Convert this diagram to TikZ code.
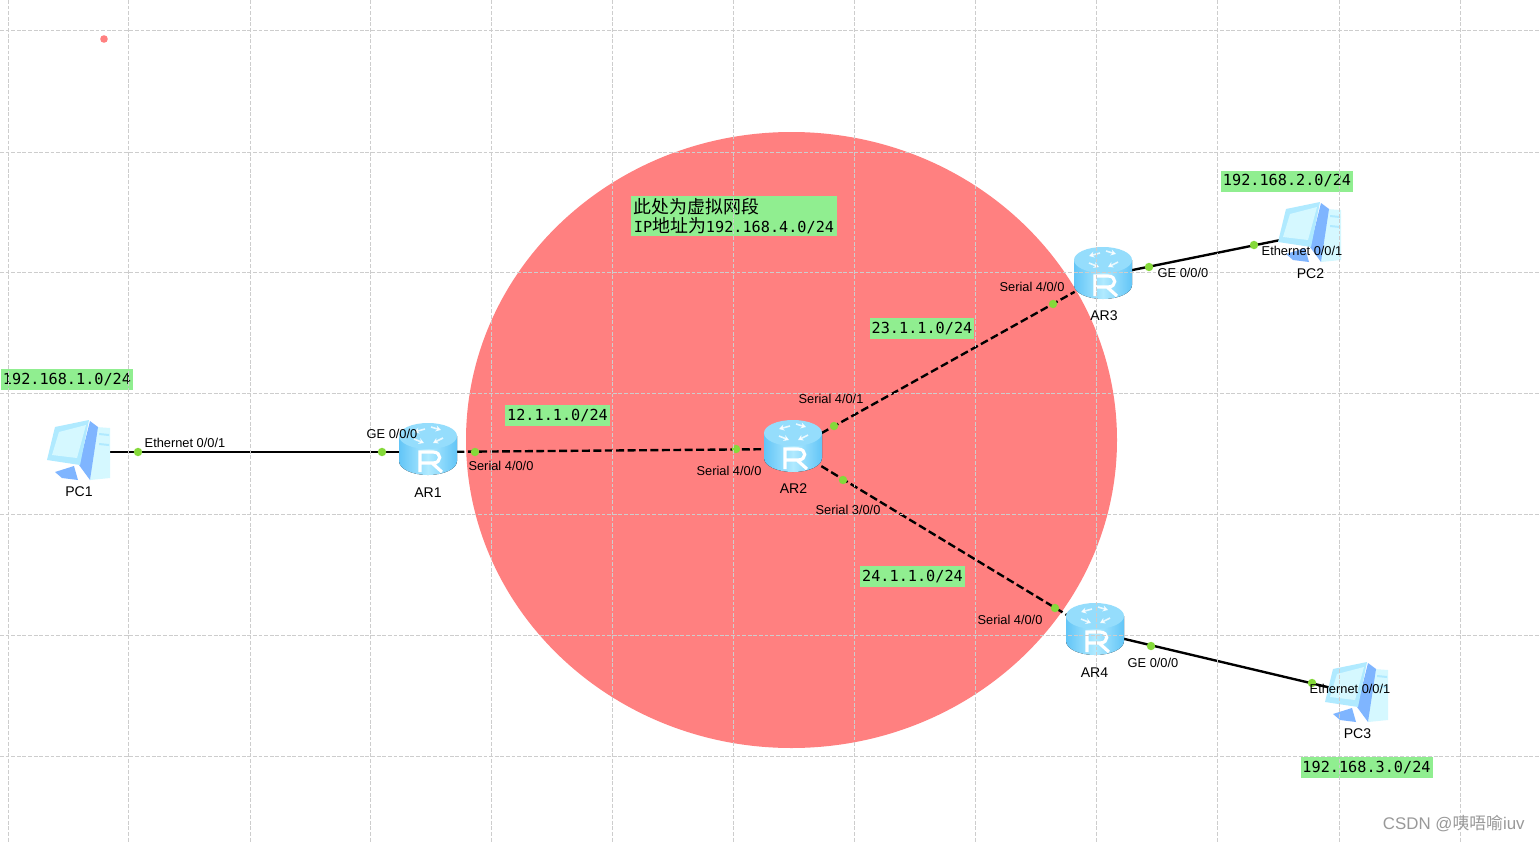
\documentclass[tikz,border=0pt]{standalone}
\usepackage{fontspec}
\setmainfont{Liberation Sans}
\newfontfamily\monofont{DejaVu Sans Mono}
\newfontfamily\cjk{Noto Sans CJK SC}
\usetikzlibrary{positioning,calc,arrows.meta}
\definecolor{zone}{HTML}{FF8080}
\definecolor{tag}{HTML}{90EE90}
\definecolor{port}{HTML}{85D93A}
\definecolor{gridc}{HTML}{CDCDCD}
\definecolor{icona}{HTML}{62C5F7}
\definecolor{iconb}{HTML}{B0EAFF}
\definecolor{iconc}{HTML}{7FB5FF}
\definecolor{icond}{HTML}{D5F8FF}
\tikzset{
  router/.pic={
    \fill[left color=icona, right color=icona, middle color=iconb]
      (-29,-16) -- (-29,9) arc[start angle=180, end angle=0, x radius=29, y radius=14] -- (29,-16) -- cycle;
    \fill[icona!35!iconb] (0,-16) ellipse[x radius=29, y radius=13];
    \draw[white, opacity=0.8, line width=0.9pt, -{Stealth[length=3pt,width=3.5pt]}] (-3,-23) -- (-14,-20);
    \draw[white, opacity=0.8, line width=0.9pt, -{Stealth[length=3pt,width=3.5pt]}] (3,-25) -- (13,-22);
    \draw[white, opacity=0.8, line width=0.9pt, -{Stealth[length=3pt,width=3.5pt]}] (-14,-13) -- (-4,-9);
    \draw[white, opacity=0.8, line width=0.9pt, -{Stealth[length=3pt,width=3.5pt]}] (15,-14) -- (5,-9);
    \draw[white, line width=1.8pt] (-8,20) -- (-8,0) -- (5,0) .. controls (14,0) and (14,11) .. (5,11) -- (-8,11) (4,11) -- (14,20);
  },
  pc/.pic={
    \fill[icond] (17,-25) -- (31,-24) -- (31,26) -- (11,28) -- cycle;
    \fill[iconb] (20,-19) -- (30,-18) -- (30,-16) -- (20,-17) -- cycle (20,-9) -- (30,-8) -- (30,-6) -- (20,-7) -- cycle;
    \fill[iconc] (-24,20) -- (-5,14) -- (-1,28) -- (-17,26) -- cycle;
    \fill[iconc] (11,-31) -- (19,-25) -- (11,28) -- (0,13) -- cycle;
    \fill[iconb] (-24,-25) -- (10,-32) -- (1,13) -- (-32,8) -- cycle;
    \fill[icond] (-20,-20) -- (7,-27) -- (-2,6) -- (-27,3) -- cycle;
  }
}
\begin{document}
\begin{tikzpicture}[x=0.02cm, y=-0.02cm,
  dev/.style={rectangle, minimum width=1.12cm, minimum height=1cm, inner sep=0pt},
  devname/.style={font=\fontsize{8}{9}\selectfont},
  ifc/.style={font=\fontsize{7.3}{9}\selectfont, inner sep=0pt},
  dot/.style={circle, fill=port, minimum size=4.8pt, inner sep=0pt},
  net/.style={fill=tag, inner sep=0pt, minimum width=2.1cm, minimum height=0.42cm, font=\monofont\fontsize{8.65}{11.4}\selectfont},
  lan/.style={net, minimum width=2.64cm},
  solid link/.style={line width=1.35pt, black},
  serial/.style={line width=1.35pt, black, dash pattern=on 4.5pt off 2pt},
  gridl/.style={gridc, dash pattern=on 2.2pt off 1pt, line width=0.45pt}
]
  \useasboundingbox (0,0) rectangle (1539,842);
  \fill[white] (0,0) rectangle (1539,842);

  % Virtual segment
  \fill[zone] (791.5,440) ellipse[x radius=325.5, y radius=308];
  \fill[zone] (104,39) circle[radius=3.8];

  % Devices
  \node[dev] (PC1) at (79,452) {};
  \node[dev] (AR1) at (428,452) {};
  \node[dev] (AR2) at (793,449) {};
  \node[dev] (AR3) at (1103,276) {};
  \node[dev] (AR4) at (1095,632) {};
  \node[dev] (PC2) at (1310,234) {};
  \node[dev] (PC3) at (1357,694) {};

  % Links
  \draw[solid link] (PC1)--(AR1);
  \draw[serial] (AR1)--(AR2);
  \draw[serial] (AR2)--(AR3);
  \draw[serial] (AR2)--(AR4);
  \draw[solid link] (AR3)--(PC2);
  \draw[solid link] (AR4)--(PC3);

  \pic at (PC1) {pc};
  \pic at (PC2) {pc};
  \pic at (PC3) {pc};
  \pic at (AR1) {router};
  \pic at (AR2) {router};
  \pic at (AR3) {router};
  \pic at (AR4) {router};

  % Ports
  \node[dot] (p1) at (138,452) {};
  \node[dot] (p2) at (382,452) {};
  \node[dot] (p3) at (475,452) {};
  \node[dot] (p4) at (736,449) {};
  \node[dot] (p5) at (834,426) {};
  \node[dot] (p6) at (1053,304) {};
  \node[dot] (p7) at (843,480) {};
  \node[dot] (p8) at (1055,608) {};
  \node[dot] (p9) at (1149,267) {};
  \node[dot] (p10) at (1254,245) {};
  \node[dot] (p11) at (1151,646) {};
  \node[dot] (p12) at (1312,683) {};

  % Network tags
  \node[lan] (n1) at (67,379.5) {192.168.1.0/24};
  \node[lan] (n2) at (1287,181) {192.168.2.0/24};
  \node[lan] (n3) at (1366.5,767.5) {192.168.3.0/24};
  \node[net] (n12) at (557.5,415.5) {12.1.1.0/24};
  \node[net] (n23) at (922,328.5) {23.1.1.0/24};
  \node[net] (n24) at (912.5,576.5) {24.1.1.0/24};
  \node[fill=tag, inner sep=0pt, minimum width=4.12cm, minimum height=0.8cm, align=left,
    font=\monofont\fontsize{8.65}{11.2}\selectfont] (n4) at (734,216)
    {{\cjk\fontsize{10.2}{11.2}\selectfont 此处为虚拟网段}\\IP{\cjk\fontsize{10.2}{11.2}\selectfont 地址为}192.168.4.0/24};

  % Grid
  \foreach \gx in {8,128,250,370,491,612,733,854,975,1096,1217,1339,1460}
    \draw[gridl] (\gx,0) -- (\gx,842);
  \foreach \gy in {30,152,272,393,514,635,756}
    \draw[gridl] (0,\gy) -- (1539,\gy);

  % Names
  \node[devname] (t1) at (79,492) {PC1};
  \node[devname] (t2) at (428,493) {AR1};
  \node[devname] (t3) at (793.5,489) {AR2};
  \node[devname] (t4) at (1104,316) {AR3};
  \node[devname] (t5) at (1094.5,673) {AR4};
  \node[devname] (t6) at (1310.5,274) {PC2};
  \node[devname] (t7) at (1357.5,734) {PC3};

  % Interfaces
  \node[ifc] (i1) at (185,442.5) {Ethernet 0/0/1};
  \node[ifc] (i2) at (392,433.5) {GE 0/0/0};
  \node[ifc] (i3) at (501,465.5) {Serial 4/0/0};
  \node[ifc] (i4) at (729,470.5) {Serial 4/0/0};
  \node[ifc] (i5) at (831,398.5) {Serial 4/0/1};
  \node[ifc] (i6) at (1032,286.5) {Serial 4/0/0};
  \node[ifc] (i7) at (848,509.5) {Serial 3/0/0};
  \node[ifc] (i8) at (1010,619.5) {Serial 4/0/0};
  \node[ifc] (i9) at (1183,272.5) {GE 0/0/0};
  \node[ifc] (i10) at (1302,250.5) {Ethernet 0/0/1};
  \node[ifc] (i11) at (1153,662.5) {GE 0/0/0};
  \node[ifc] (i12) at (1350,688.5) {Ethernet 0/0/1};

  \node[text=black!40, font=\fontsize{9.6}{11}\selectfont, anchor=east, inner sep=0pt] (wm) at (1525,824) {CSDN @{\cjk 咦唔喻}iuv};
\end{tikzpicture}
\end{document}
